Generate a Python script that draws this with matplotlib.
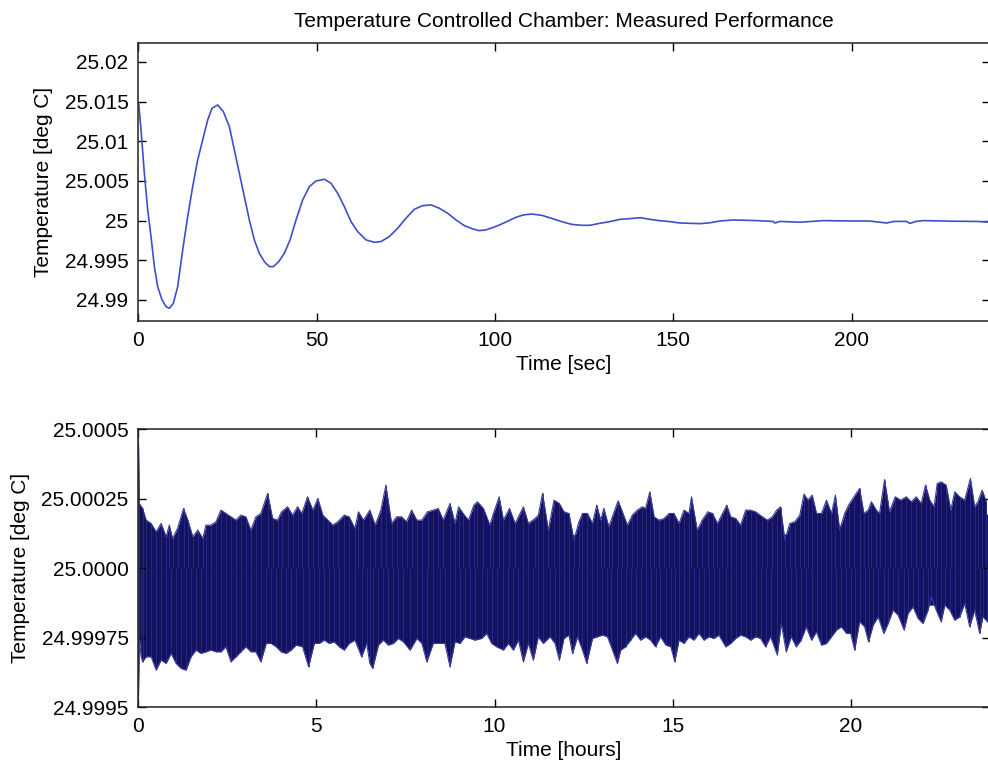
import matplotlib
matplotlib.use("Agg")
import matplotlib.pyplot as plt
import numpy as np
from matplotlib.ticker import FixedLocator, FixedFormatter

plt.rcParams["font.family"] = ["Liberation Sans", "DejaVu Sans"]

# ── Data: step response (top panel), seconds / deviation from 25 C in mK ─────
STEP_T = [0.1, 0.76, 1.69, 2.63, 3.56, 4.50, 5.43, 6.65, 7.77, 8.70, 9.82,
          11.04, 12.44, 13.84, 15.24, 16.64, 18.05, 19.45, 20.66, 22.25, 23.84,
          25.52, 26.93, 28.33, 29.73, 31.13, 32.53, 33.93, 35.34, 36.74, 37.86,
          39.36, 40.95, 42.53, 44.21, 46.08, 47.95, 49.82, 52.16, 54.03, 55.9,
          57.76, 59.63, 61.5, 63.84, 66.18, 68.04, 70.38, 72.72, 75.05, 77.39,
          79.73, 82.06, 84.4, 86.74, 89.07, 91.41, 93.75, 95.61, 97.48, 99.35,
          101.4, 103.3, 105.6, 107.9, 110.3, 113.1, 115.9, 118.7, 121.5, 124.3,
          126.6, 129.4, 132.2, 135.0, 137.8, 140.7, 143.5, 146.3, 149.1, 151.9,
          154.7, 157.5, 159.8, 163.1, 166.8, 170.6, 173.4, 178.0, 178.5, 179.9,
          185.5, 192.1, 200.5, 205.0, 209.8, 212.0, 215.4, 216.4, 218.0, 220.1,
          229.4, 235.0, 238.8]
STEP_DEV = [14.79, 11.43, 5.97, 1.34, -2.02, -5.80, -8.32, -10.0, -10.84, -11.05,
            -10.42, -8.32, -3.70, 0.50, 4.28, 7.65, 10.17, 12.69, 14.16, 14.58,
            13.74, 11.85, 8.91, 5.97, 3.02, 0.08, -2.44, -4.12, -5.17, -5.80,
            -5.80, -5.17, -4.12, -2.44, 0.08, 2.60, 4.28, 5.00, 5.21, 4.71, 3.45,
            1.77, -0.12, -1.38, -2.43, -2.73, -2.64, -2.01, -0.96, 0.30, 1.43,
            1.89, 1.98, 1.56, 0.93, 0.09, -0.63, -1.05, -1.26, -1.17, -0.88,
            -0.52, -0.13, 0.37, 0.71, 0.83, 0.67, 0.29, -0.13, -0.47, -0.59,
            -0.59, -0.34, -0.13, 0.16, 0.25, 0.37, 0.16, -0.01, -0.13, -0.30,
            -0.34, -0.38, -0.30, -0.05, 0.08, 0.04, 0.0, -0.1, -0.3, -0.1,
            -0.2, 0.0, -0.05, -0.05, -0.3, -0.1, -0.1, -0.35, -0.1, 0.0,
            -0.08, -0.1, -0.2]

# ── Data: 24 h record (bottom panel), hours / deviation from 25 C in micro-deg C
# solid core of the trace
BAND_T = [0, 1, 2, 3, 4, 5, 6, 8, 10, 12, 14, 16, 18, 19, 20, 21, 22, 23, 23.9]
BAND_HI = [95, 85, 90, 105, 120, 125, 120, 120, 125, 120, 125, 125, 120, 140,
           160, 170, 185, 195, 195]
BAND_LO = [-225, -225, -222, -218, -215, -212, -212, -208, -208, -208, -208,
           -208, -208, -196, -175, -152, -135, -128, -132]

# upper outline of the trace (t, dev)
PEAKS_UP = [
    (0.0, 500), (0.03, 233), (0.12, 215), (0.22, 173), (0.36, 161), (0.50, 131),
    (0.64, 161), (0.78, 113), (0.87, 155), (0.96, 107), (1.10, 143), (1.27, 215),
    (1.39, 173), (1.53, 113), (1.67, 137), (1.81, 107), (1.90, 155), (2.04, 155),
    (2.18, 167), (2.32, 209), (2.46, 197), (2.60, 185), (2.74, 173), (2.88, 191),
    (3.02, 185), (3.16, 137), (3.30, 185), (3.44, 197), (3.63, 269), (3.77, 179),
    (3.91, 173), (4.02, 203), (4.19, 221), (4.33, 191), (4.47, 221), (4.59, 197),
    (4.75, 257), (4.90, 209), (5.04, 251), (5.18, 191), (5.32, 173), (5.46, 155),
    (5.60, 167), (5.78, 191), (5.92, 185),
    (6.08, 143), (6.18, 203), (6.32, 173), (6.50, 209), (6.65, 155), (6.81, 209),
    (6.95, 299), (7.11, 161), (7.25, 185), (7.39, 185), (7.53, 167), (7.67, 209),
    (7.82, 173), (7.96, 173), (8.12, 203), (8.28, 209), (8.42, 215), (8.56, 173),
    (8.75, 233), (8.89, 161), (8.99, 221), (9.12, 197), (9.27, 173), (9.42, 227),
    (9.52, 239), (9.69, 215), (9.87, 155), (9.97, 197), (10.13, 257), (10.25, 173),
    (10.42, 215), (10.58, 161), (10.81, 221), (10.95, 161), (11.14, 179),
    (11.23, 191), (11.35, 269), (11.51, 137), (11.67, 245), (11.82, 233),
    (11.95, 203), (12.09, 197), (12.23, 101), (12.37, 167), (12.47, 197),
    (12.61, 197), (12.75, 161), (12.87, 227), (12.98, 173), (13.07, 215),
    (13.21, 149), (13.31, 185), (13.47, 243), (13.59, 203), (13.73, 155),
    (13.87, 191), (14.01, 209), (14.15, 221), (14.24, 215), (14.36, 275),
    (14.48, 185), (14.62, 173), (14.76, 179), (14.90, 197), (15.04, 197),
    (15.18, 161), (15.32, 209), (15.46, 197), (15.53, 257), (15.69, 137),
    (15.83, 173), (15.99, 203), (16.12, 197), (16.26, 161), (16.40, 197),
    (16.52, 227), (16.63, 185), (16.77, 179), (16.91, 155), (17.05, 209),
    (17.19, 209), (17.33, 203), (17.52, 185), (17.66, 173), (17.80, 185),
    (17.92, 209), (18.03, 221), (18.15, 101), (18.29, 161), (18.43, 167),
    (18.57, 191), (18.69, 267), (18.80, 245), (18.92, 263), (19.04, 197),
    (19.18, 197), (19.32, 245), (19.46, 197), (19.57, 263), (19.69, 137),
    (19.83, 197), (19.94, 227), (20.09, 257), (20.25, 287), (20.37, 197),
    (20.49, 209), (20.58, 239), (20.72, 209), (20.81, 197), (20.95, 319),
    (21.09, 203), (21.25, 257), (21.40, 245), (21.56, 257), (21.70, 239),
    (21.84, 257), (21.98, 233), (22.10, 299), (22.22, 245), (22.34, 221),
    (22.43, 305), (22.54, 311), (22.68, 299), (22.81, 209), (22.92, 275),
    (23.06, 257), (23.20, 245), (23.36, 323), (23.48, 221), (23.57, 239),
    (23.69, 281), (23.81, 239),
]

# lower outline of the trace (t, dev)
PEAKS_DOWN = [
    (0.0, -500), (0.03, -259), (0.08, -319), (0.12, -337), (0.22, -319),
    (0.36, -319), (0.50, -367), (0.64, -331), (0.78, -343), (0.92, -307),
    (1.06, -343), (1.20, -361), (1.34, -367), (1.48, -319), (1.62, -295),
    (1.76, -307), (1.90, -301), (2.04, -295), (2.18, -301), (2.32, -301),
    (2.46, -283), (2.60, -337), (2.74, -319), (2.88, -301), (3.02, -283),
    (3.16, -301), (3.30, -301), (3.44, -337), (3.59, -271), (3.73, -271),
    (3.87, -283), (4.01, -301), (4.15, -307), (4.29, -295), (4.43, -277),
    (4.61, -283), (4.78, -355), (4.94, -271), (5.08, -271), (5.22, -259),
    (5.36, -271), (5.50, -265), (5.64, -283), (5.78, -295), (5.92, -271),
    (6.08, -259), (6.27, -319), (6.41, -271), (6.50, -343), (6.58, -361),
    (6.74, -277), (6.88, -259), (7.02, -277), (7.16, -271), (7.30, -253),
    (7.44, -265), (7.63, -295), (7.82, -253), (7.96, -271), (8.10, -337),
    (8.28, -271), (8.47, -271), (8.61, -271), (8.75, -355), (8.89, -265),
    (9.03, -271), (9.17, -247), (9.31, -253), (9.45, -259), (9.64, -253),
    (9.78, -235), (9.92, -271), (10.06, -283), (10.25, -295), (10.39, -271),
    (10.53, -295), (10.67, -259), (10.81, -337), (10.95, -271), (11.09, -331),
    (11.23, -247), (11.37, -271), (11.56, -247), (11.70, -271), (11.82, -331),
    (11.95, -253), (12.09, -241), (12.19, -307), (12.33, -247), (12.47, -295),
    (12.59, -343), (12.75, -253), (12.89, -247), (13.03, -241), (13.17, -247),
    (13.26, -277), (13.45, -343), (13.54, -295), (13.68, -283), (13.82, -259),
    (13.96, -235), (14.10, -259), (14.24, -247), (14.38, -259), (14.52, -283),
    (14.66, -247), (14.81, -277), (14.95, -283), (15.06, -337), (15.18, -259),
    (15.32, -271), (15.46, -247), (15.60, -259), (15.74, -235), (15.88, -259),
    (16.02, -247), (16.16, -253), (16.30, -241), (16.49, -283), (16.63, -271),
    (16.77, -253), (16.91, -241), (17.05, -247), (17.19, -259), (17.33, -247),
    (17.47, -253), (17.61, -283), (17.75, -247), (17.94, -313), (18.05, -199),
    (18.19, -301), (18.33, -247), (18.47, -283), (18.61, -259), (18.75, -211),
    (18.90, -259), (19.04, -229), (19.18, -277), (19.32, -271), (19.46, -247),
    (19.60, -223), (19.74, -211), (19.88, -235), (20.00, -235), (20.11, -295),
    (20.25, -193), (20.39, -211), (20.50, -265), (20.63, -205), (20.77, -175),
    (20.93, -235), (21.05, -199), (21.19, -151), (21.33, -169), (21.50, -223),
    (21.61, -163), (21.75, -139), (21.89, -181), (22.03, -199), (22.17, -151),
    (22.26, -103), (22.40, -151), (22.54, -193), (22.64, -133), (22.78, -151),
    (22.92, -187), (23.06, -175), (23.20, -127), (23.34, -211), (23.48, -151),
    (23.62, -235), (23.71, -175), (23.84, -193),
]

LONG_YTICKS = [24.9995, 24.99975, 25.0, 25.00025, 25.0005]
LONG_YLABELS = ["24.9995", "24.99975", "25.0000", "25.00025", "25.0005"]
STEP_YTICKS = [24.99, 24.995, 25.0, 25.005, 25.01, 25.015, 25.02]
STEP_YLABELS = ["24.99", "24.995", "25", "25.005", "25.01", "25.015", "25.02"]

# ── Style ────────────────────────────────────────────────────────────────────
LINE_BLUE = "#3f4fc8"
NAVY = "#12125e"
STREAK = "#2c2c90"
EDGE = "#3a3a9c"
FS = 15


def style_ax(ax):
    for sp in ax.spines.values():
        sp.set_linewidth(1.1)
        sp.set_color("#222222")
    ax.tick_params(direction="in", top=True, right=True, length=6,
                   width=1.0, labelsize=FS, pad=7)


fig = plt.figure(figsize=(9.88, 7.69), dpi=100)

# ─── Top: settling after a step ──────────────────────────────────────────────
ax1 = fig.add_axes([0.140, 0.5826, 0.862, 0.3619])
ax1.plot(STEP_T, 25.0 + np.array(STEP_DEV) * 1e-3, color=LINE_BLUE, lw=1.2)
ax1.set_xlim(0, 238.8)
ax1.set_ylim(24.98735, 25.02243)
ax1.set_xticks([0, 50, 100, 150, 200])
ax1.yaxis.set_major_locator(FixedLocator(STEP_YTICKS))
ax1.yaxis.set_major_formatter(FixedFormatter(STEP_YLABELS))
style_ax(ax1)
ax1.set_xlabel("Time [sec]", fontsize=FS, labelpad=4)
ax1.set_ylabel("Temperature [deg C]", fontsize=FS, labelpad=8)
ax1.set_title("Temperature Controlled Chamber: Measured Performance",
              fontsize=FS, pad=11)

# ─── Bottom: 24 hour stability ───────────────────────────────────────────────
ax2 = fig.add_axes([0.140, 0.0806, 0.862, 0.3611])
base = 25.0
up_t = np.array([p[0] for p in PEAKS_UP])
up_v = base + np.array([p[1] for p in PEAKS_UP]) * 1e-6
dn_t = np.array([p[0] for p in PEAKS_DOWN])
dn_v = base + np.array([p[1] for p in PEAKS_DOWN]) * 1e-6
ax2.fill_between(up_t, base, up_v, color=NAVY, lw=0)
ax2.fill_between(dn_t, dn_v, base, color=NAVY, lw=0)
ax2.fill_between(BAND_T, base + np.array(BAND_LO) * 1e-6,
                 base + np.array(BAND_HI) * 1e-6, color=NAVY, lw=0)
# faint vertical streaks give the dense trace its texture
ax2.vlines(up_t, base, up_v, color=STREAK, lw=0.7, alpha=0.8)
ax2.vlines(dn_t, dn_v, base, color=STREAK, lw=0.7, alpha=0.8)
ax2.plot(up_t, up_v, color=EDGE, lw=0.8)
ax2.plot(dn_t, dn_v, color=EDGE, lw=0.8)
ax2.set_xlim(0, 23.91)
ax2.set_ylim(24.9995, 25.0005)
ax2.set_xticks([0, 5, 10, 15, 20])
ax2.yaxis.set_major_locator(FixedLocator(LONG_YTICKS))
ax2.yaxis.set_major_formatter(FixedFormatter(LONG_YLABELS))
style_ax(ax2)
ax2.set_xlabel("Time [hours]", fontsize=FS, labelpad=4)
ax2.set_ylabel("Temperature [deg C]", fontsize=FS, labelpad=8)

fig.savefig("out.png", dpi=100)
